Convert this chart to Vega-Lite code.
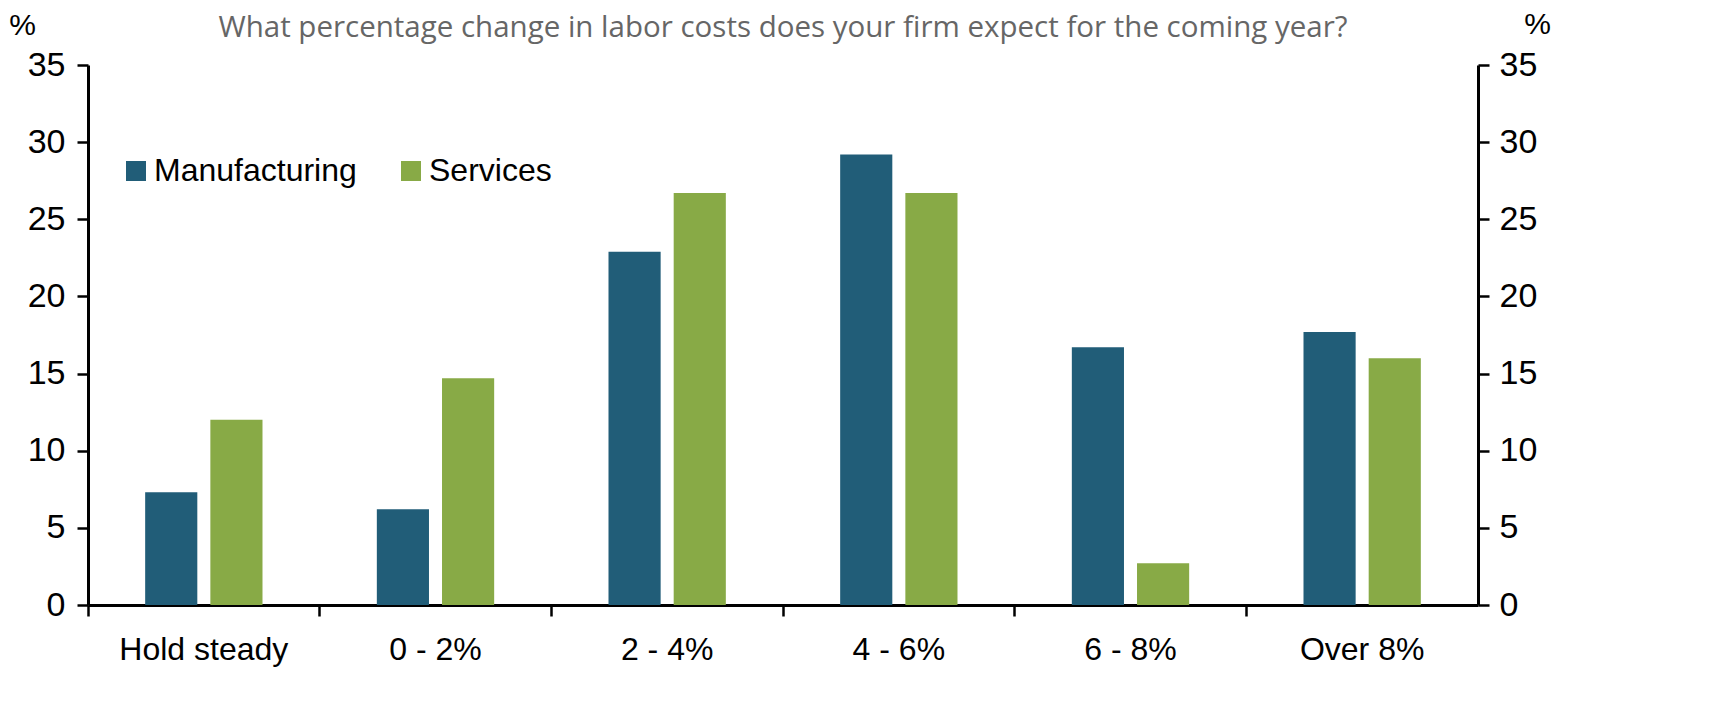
{
  "$schema": "https://vega.github.io/schema/vega-lite/v6.json",
  "autosize": "none",
  "width": 1390,
  "height": 540,
  "padding": {"left": 88, "top": 65, "right": 237, "bottom": 121},
  "background": "white",
  "title": {
    "text": "What percentage change in labor costs does your firm expect for the coming year?",
    "font": "Open Sans",
    "fontSize": 29.5,
    "fontWeight": "normal",
    "color": "#666666",
    "anchor": "middle",
    "frame": "group",
    "offset": -34
  },
  "data": {
    "values": [
      {"range": "Hold steady", "sector": "Manufacturing", "pct": 7.3},
      {"range": "Hold steady", "sector": "Services", "pct": 12.0},
      {"range": "0 - 2%", "sector": "Manufacturing", "pct": 6.2},
      {"range": "0 - 2%", "sector": "Services", "pct": 14.7},
      {"range": "2 - 4%", "sector": "Manufacturing", "pct": 22.9},
      {"range": "2 - 4%", "sector": "Services", "pct": 26.7},
      {"range": "4 - 6%", "sector": "Manufacturing", "pct": 29.2},
      {"range": "4 - 6%", "sector": "Services", "pct": 26.7},
      {"range": "6 - 8%", "sector": "Manufacturing", "pct": 16.7},
      {"range": "6 - 8%", "sector": "Services", "pct": 2.7},
      {"range": "Over 8%", "sector": "Manufacturing", "pct": 17.7},
      {"range": "Over 8%", "sector": "Services", "pct": 16.0}
    ]
  },
  "encoding": {
    "x": {
      "field": "range",
      "type": "nominal",
      "sort": null,
      "scale": {"paddingInner": 0, "paddingOuter": 0},
      "axis": {
        "title": null,
        "labelAngle": 0,
        "labelFont": "Liberation Sans",
        "labelFontSize": 32,
        "labelColor": "black",
        "labelPadding": 18,
        "bandPosition": 0,
        "tickSize": 11,
        "tickWidth": 2.5,
        "tickColor": "black",
        "domainColor": "black",
        "domainWidth": 3
      }
    },
    "xOffset": {
      "field": "sector",
      "type": "nominal",
      "scale": {"paddingInner": 0.2, "paddingOuter": 0.877}
    },
    "color": {
      "field": "sector",
      "type": "nominal",
      "scale": {"domain": ["Manufacturing", "Services"], "range": ["#215D78", "#88AA46"]},
      "legend": {
        "title": null,
        "orient": "none",
        "legendX": 32,
        "legendY": 90,
        "direction": "horizontal",
        "symbolType": "square",
        "symbolSize": 400,
        "symbolStrokeWidth": 0,
        "labelFont": "Liberation Sans",
        "labelFontSize": 32,
        "labelLimit": 500,
        "labelColor": "black",
        "labelOffset": 2,
        "columnPadding": 38
      }
    }
  },
  "layer": [
    {
      "mark": {"type": "bar"},
      "encoding": {
        "y": {
          "field": "pct",
          "type": "quantitative",
          "scale": {"domain": [0, 35], "nice": false},
          "axis": {
            "orient": "left",
            "values": [0, 5, 10, 15, 20, 25, 30, 35],
            "grid": false,
            "title": "%",
            "titleAngle": 0,
            "titleFont": "Liberation Sans",
            "titleFontSize": 30,
            "titleFontWeight": "normal",
            "titleColor": "black",
            "titleX": -66,
            "titleY": -40,
            "titleAlign": "center",
            "titleBaseline": "middle",
            "labelFont": "Liberation Sans",
            "labelFontSize": 34,
            "labelColor": "black",
            "labelPadding": 12,
            "tickSize": 11,
            "tickWidth": 2.5,
            "tickColor": "black",
            "domainColor": "black",
            "domainWidth": 3
          }
        }
      }
    },
    {
      "mark": {"type": "bar", "opacity": 0},
      "encoding": {
        "y": {
          "field": "pct",
          "type": "quantitative",
          "scale": {"domain": [0, 35], "nice": false},
          "axis": {
            "orient": "right",
            "values": [0, 5, 10, 15, 20, 25, 30, 35],
            "grid": false,
            "title": "%",
            "titleAngle": 0,
            "titleFont": "Liberation Sans",
            "titleFontSize": 30,
            "titleFontWeight": "normal",
            "titleColor": "black",
            "titleX": 59,
            "titleY": -41,
            "titleAlign": "center",
            "titleBaseline": "middle",
            "labelFont": "Liberation Sans",
            "labelFontSize": 34,
            "labelColor": "black",
            "labelPadding": 10,
            "tickSize": 11,
            "tickWidth": 2.5,
            "tickColor": "black",
            "domainColor": "black",
            "domainWidth": 3
          }
        }
      }
    }
  ],
  "resolve": {"scale": {"y": "independent"}},
  "config": {"view": {"stroke": null}}
}
